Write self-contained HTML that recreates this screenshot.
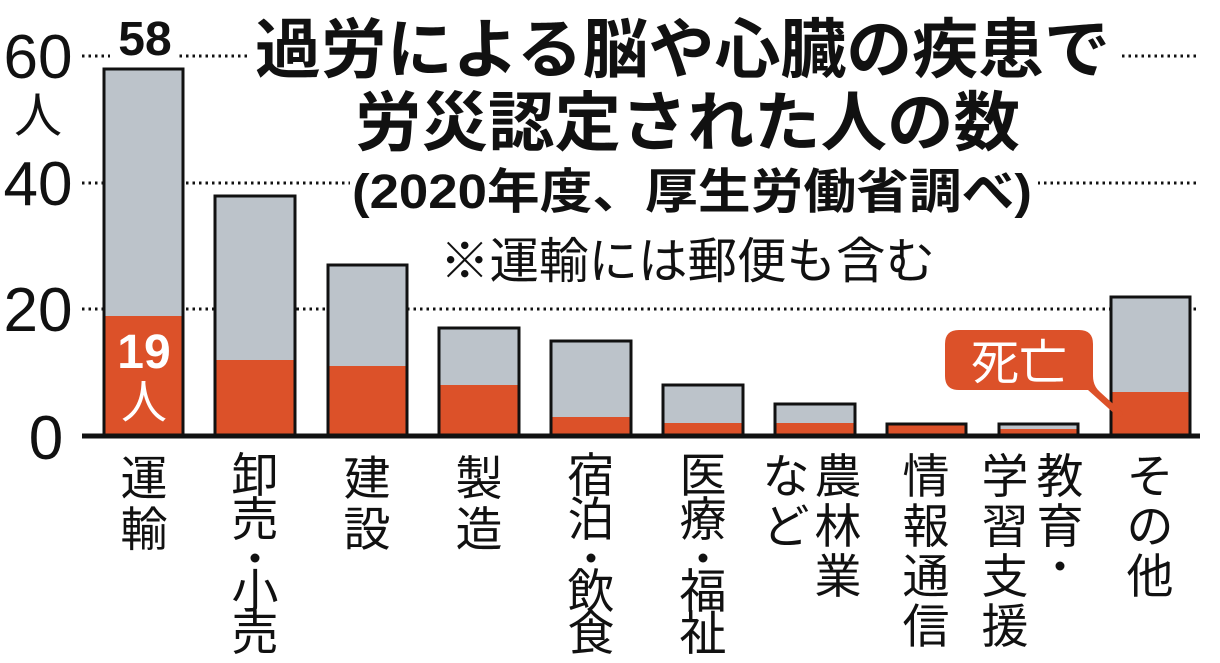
<!DOCTYPE html>
<html><head><meta charset="utf-8"><style>
body{margin:0;background:#fff}
svg{display:block}
text{font-family:"Liberation Sans","Noto Sans CJK JP",sans-serif}
.c{font-size:47px;text-anchor:middle;fill:#111}
</style></head><body>
<svg width="1220" height="663" viewBox="0 0 1220 663">
<rect width="1220" height="663" fill="#fff"/>
<g stroke="#111" stroke-width="3" stroke-dasharray="2.5 4">
<line x1="82" y1="56" x2="1200" y2="56"/>
<line x1="82" y1="183" x2="1200" y2="183"/>
<line x1="82" y1="309" x2="1200" y2="309"/>
</g>
<rect x="110" y="5" width="68" height="60" fill="#fff"/>
<rect x="248" y="5" width="870" height="150" fill="#fff"/>
<rect x="350" y="155" width="688" height="60" fill="#fff"/>
<g font-weight="bold" fill="#111">
<text x="255" y="72" font-size="65" textLength="855" lengthAdjust="spacingAndGlyphs">過労による脳や心臓の疾患で</text>
<text x="355" y="145" font-size="65" textLength="665" lengthAdjust="spacingAndGlyphs">労災認定された人の数</text>
<text x="352" y="208" font-size="48" textLength="680" lengthAdjust="spacingAndGlyphs">(2020年度、厚生労働省調べ)</text>
<text x="145" y="55" font-size="48" text-anchor="middle">58</text>
</g>
<text x="440" y="278" font-size="49" fill="#111" textLength="495" lengthAdjust="spacingAndGlyphs">※運輸には郵便も含む</text>
<g font-size="62" fill="#111" text-anchor="middle">
<text x="38" y="78">60</text>
<text x="38" y="132" font-size="48">人</text>
<text x="38" y="205">40</text>
<text x="38" y="331">20</text>
<text x="46" y="459">0</text>
</g>
<g stroke="#111" stroke-width="3">
<rect x="104" y="69" width="79" height="367" fill="#bcc3ca"/>
<rect x="215" y="196" width="80" height="240" fill="#bcc3ca"/>
<rect x="328" y="265" width="79" height="171" fill="#bcc3ca"/>
<rect x="439" y="328" width="80" height="108" fill="#bcc3ca"/>
<rect x="551" y="341" width="80" height="95" fill="#bcc3ca"/>
<rect x="663" y="385" width="80" height="51" fill="#bcc3ca"/>
<rect x="775" y="404" width="80" height="32" fill="#bcc3ca"/>
<rect x="887" y="424" width="79" height="12" fill="#bcc3ca"/>
<rect x="999" y="424" width="79" height="12" fill="#bcc3ca"/>
<rect x="1111" y="297" width="79" height="139" fill="#bcc3ca"/>
</g>
<g fill="#dc5129">
<rect x="105.5" y="316" width="76" height="119"/>
<rect x="216.5" y="360" width="77" height="75"/>
<rect x="329.5" y="366" width="76" height="69"/>
<rect x="440.5" y="385" width="77" height="50"/>
<rect x="552.5" y="417" width="77" height="18"/>
<rect x="664.5" y="423" width="77" height="12"/>
<rect x="776.5" y="423" width="77" height="12"/>
<rect x="888.5" y="425.5" width="76" height="9"/>
<rect x="1000.5" y="429" width="76" height="6"/>
<rect x="1112.5" y="392" width="76" height="43"/>
</g>
<line x1="82" y1="436" x2="1200" y2="436" stroke="#111" stroke-width="5"/>
<g fill="#fff" text-anchor="middle" font-weight="bold">
<text x="144" y="368" font-size="48">19</text>
<text x="144" y="418" font-size="46" font-weight="normal">人</text>
</g>
<path d="M959 330 H1079 Q1093 330 1093 344 V376 Q1093 386 1100 392 L1122 412 Q1124 418 1117 416 L1088 390 H959 Q945 390 945 376 V344 Q945 330 959 330 Z" fill="#dc5129"/>
<text x="1019" y="379" font-size="48" fill="#fff" text-anchor="middle">死亡</text>
<g fill="#111">
<circle cx="255" cy="558" r="4.5"/>
<circle cx="591" cy="558" r="4.5"/>
<circle cx="703" cy="558" r="4.5"/>
<circle cx="1060" cy="566" r="4.5"/>
</g>
<g class="c">
<text class="c" x="144" y="495">運</text><text class="c" x="144" y="546">輸</text>
<text class="c" x="255" y="492">卸</text><text class="c" x="255" y="536">売</text><text class="c" x="255" y="608">小</text><text class="c" x="255" y="650">売</text>
<text class="c" x="367" y="495">建</text><text class="c" x="367" y="546">設</text>
<text class="c" x="479" y="495">製</text><text class="c" x="479" y="546">造</text>
<text class="c" x="591" y="492">宿</text><text class="c" x="591" y="536">泊</text><text class="c" x="591" y="608">飲</text><text class="c" x="591" y="650">食</text>
<text class="c" x="703" y="492">医</text><text class="c" x="703" y="536">療</text><text class="c" x="703" y="608">福</text><text class="c" x="703" y="650">祉</text>
<text class="c" x="838" y="493">農</text><text class="c" x="838" y="543">林</text><text class="c" x="838" y="593">業</text>
<text class="c" x="786" y="493">な</text><text class="c" x="786" y="543">ど</text>
<text class="c" x="926" y="493">情</text><text class="c" x="926" y="543">報</text><text class="c" x="926" y="593">通</text><text class="c" x="926" y="643">信</text>
<text class="c" x="1060" y="493">教</text><text class="c" x="1060" y="543">育</text>
<text class="c" x="1005" y="493">学</text><text class="c" x="1005" y="543">習</text><text class="c" x="1005" y="593">支</text><text class="c" x="1005" y="643">援</text>
<text class="c" x="1150" y="493">そ</text><text class="c" x="1150" y="543">の</text><text class="c" x="1150" y="593">他</text>
</g>
</svg>
</body></html>
